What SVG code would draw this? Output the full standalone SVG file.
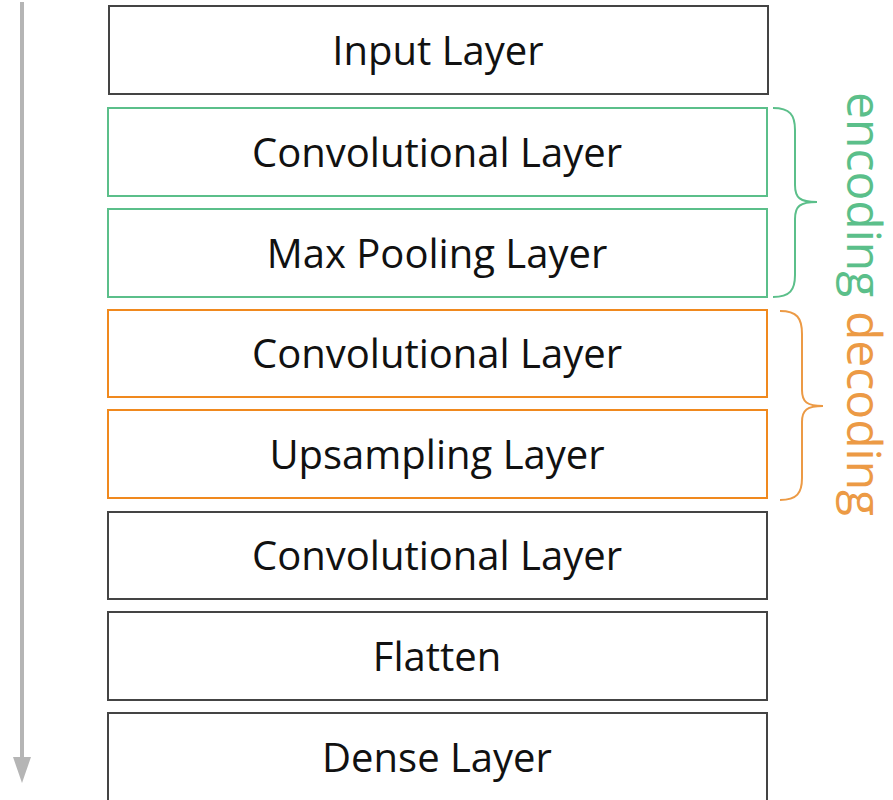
<svg xmlns="http://www.w3.org/2000/svg" width="893" height="800" viewBox="0 0 893 800">
<defs>
<style>
.box{fill:#fff;stroke-width:2}
.k{stroke:#444}
.g{stroke:#5bbf8a}
.o{stroke:#f0891e}
.t{font-family:"Open Sans","Liberation Sans",sans-serif;font-size:40px;fill:#111;text-anchor:middle}
.lbl{font-family:"Open Sans","Liberation Sans",sans-serif;font-size:48px}
.brace{fill:none;stroke-width:2}
</style>
</defs>
<rect width="893" height="800" fill="#fff"/>
<g id="flow-arrow">
<line x1="22" y1="2" x2="22" y2="760" stroke="#b5b5b5" stroke-width="4"/>
<polygon points="13,757 31,757 22,783" fill="#b5b5b5"/>
</g>
<g id="input-layer"><rect class="box k" x="109" y="6" width="659" height="88"/><text class="t" x="438" y="65">Input Layer</text></g>
<g id="conv1"><rect class="box g" x="108" y="108" width="659" height="88"/><text class="t" x="437" y="167">Convolutional Layer</text></g>
<g id="maxpool"><rect class="box g" x="108" y="209" width="659" height="88"/><text class="t" x="437" y="268">Max Pooling Layer</text></g>
<g id="conv2"><rect class="box o" x="108" y="310" width="659" height="87"/><text class="t" x="437" y="368">Convolutional Layer</text></g>
<g id="upsampling"><rect class="box o" x="108" y="410" width="659" height="88"/><text class="t" x="437" y="469">Upsampling Layer</text></g>
<g id="conv3"><rect class="box k" x="108" y="512" width="659" height="87"/><text class="t" x="437" y="570">Convolutional Layer</text></g>
<g id="flatten"><rect class="box k" x="108" y="612" width="659" height="88"/><text class="t" x="437" y="671">Flatten</text></g>
<g id="dense"><rect class="box k" x="108" y="713" width="659" height="88"/><text class="t" x="437" y="772">Dense Layer</text></g>
<g id="encoding">
<path class="brace" stroke="#5bbf8a" d="M773,108 C790,108 795,115 795,130 L795,185 C795,198 800,202 817,202 C800,202 795,206 795,219 L795,275 C795,290 790,297 773,297"/>
<text class="lbl" fill="#5bbf8a" transform="translate(847,92) rotate(90)">encoding</text>
</g>
<g id="decoding">
<path class="brace" stroke="#ec9a45" d="M780,311 C797,311 802,318 802,334 L802,390 C802,402 807,406 823,406 C807,406 802,410 802,422 L802,478 C802,493 797,500 780,500"/>
<text class="lbl" fill="#ec9a45" transform="translate(847,311) rotate(90)">decoding</text>
</g>
</svg>
